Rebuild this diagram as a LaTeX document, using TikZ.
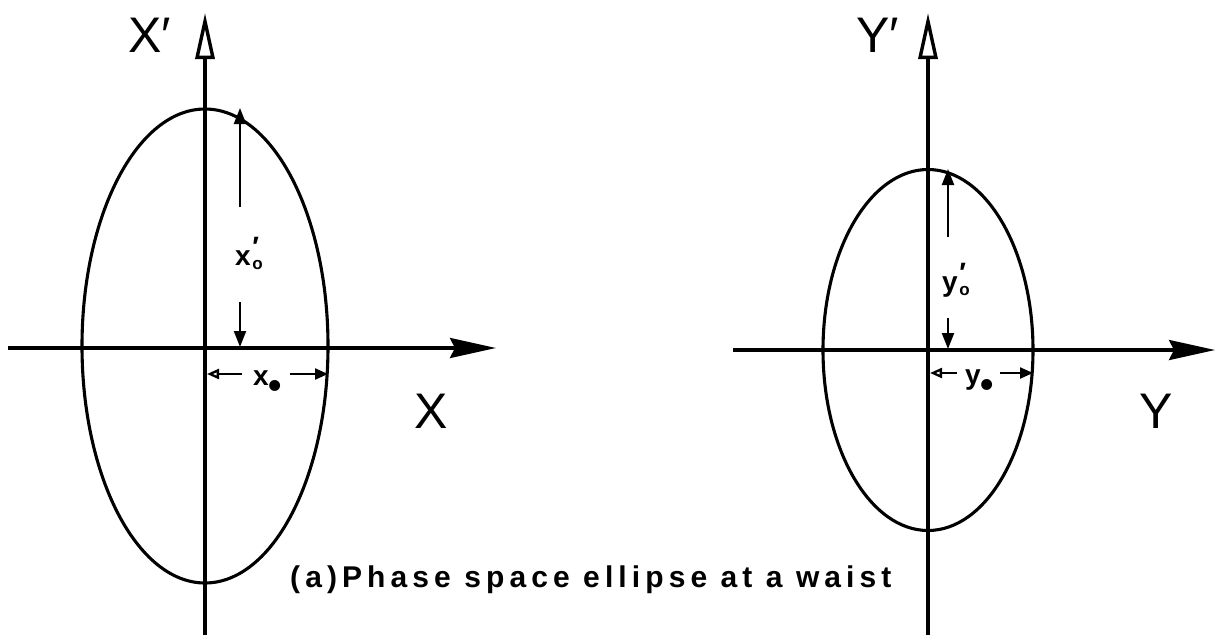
\documentclass[tikz,border=0pt]{standalone}
\usepackage{fontspec}
\setmainfont{Liberation Sans}
\usetikzlibrary{arrows.meta,shapes.geometric}
\begin{document}
\begin{tikzpicture}[x=1pt,y=-1pt,
 axisline/.style={line width=3.4pt},
 ell/.style={draw, ellipse, line width=3.1pt, inner sep=0pt, outer sep=0pt},
 dimline/.style={line width=2.3pt},
 bigtip/.style={-{Stealth[length=46pt,width=20pt,inset=5pt]}},
 opentip/.style={-{Triangle[open,length=46pt,width=19pt,line width=3.4pt]}},
 dimtip/.style={-{Triangle[length=16pt,width=12pt]}},
 lefttip/.style={-{Triangle[open,length=12pt,width=10pt,line width=2.3pt]}},
 righttip/.style={-{Triangle[length=13pt,width=11pt]}},
 axlabel/.style={font=\fontsize{50}{50}\selectfont, inner sep=0pt, anchor=base west},
 dimlabel/.style={font=\fontsize{28}{28}\selectfont\bfseries, inner sep=0pt, anchor=base west},
]
\useasboundingbox (0,0) rectangle (1226,635);
\fill[white] (0,0) rectangle (1226,635);

% ---------- left diagram ----------
\coordinate (xl0) at (8,348);
\coordinate (xl1) at (496,348);
\coordinate (yl0) at (205,635);
\coordinate (yl1) at (205,13);
\node[ell, minimum width=246pt, minimum height=474pt] (e1) at (205,346) {};
\draw[axisline, bigtip] (xl0) -- (xl1);
\draw[axisline, opentip] (yl0) -- (yl1);
\node[axlabel] (lXp) at (128,52) {X′};
\node[axlabel] (lX) at (414,428) {X};

% x'_o dimension
\coordinate (da1) at (240,207);
\coordinate (da2) at (240,108);
\coordinate (db1) at (240,302);
\coordinate (db2) at (240,347);
\draw[dimline, dimtip] (da1) -- (da2);
\draw[dimline, dimtip] (db1) -- (db2);
\node[dimlabel] (lxp) at (235,265) {x\kern1.5pt\rlap{\raisebox{9pt}{′}}\raisebox{-4pt}{\fontsize{17}{17}\selectfont o}};

% x_o dimension
\coordinate (ha1) at (242,374);
\coordinate (ha2) at (207,374);
\coordinate (hb1) at (290,374);
\coordinate (hb2) at (328,374);
\draw[dimline, lefttip] (ha1) -- (ha2);
\draw[dimline, righttip] (hb1) -- (hb2);
\node[dimlabel] (lx) at (253,385) {x\raisebox{-13pt}{\fontsize{38}{38}\selectfont •}};

% ---------- right diagram ----------
\coordinate (xr0) at (733,350);
\coordinate (xr1) at (1215,350);
\coordinate (yr0) at (928,635);
\coordinate (yr1) at (928,13);
\node[ell, minimum width=210pt, minimum height=361pt] (e2) at (928,350) {};
\draw[axisline, bigtip] (xr0) -- (xr1);
\draw[axisline, opentip] (yr0) -- (yr1);
\node[axlabel] (lYp) at (856,52) {Y′};
\node[axlabel] (lY) at (1139,428) {Y};

% y'_o dimension
\coordinate (dc1) at (948,237);
\coordinate (dc2) at (948,169);
\coordinate (dd1) at (948,318);
\coordinate (dd2) at (948,349);
\draw[dimline, dimtip] (dc1) -- (dc2);
\draw[dimline, dimtip] (dd1) -- (dd2);
\node[dimlabel] (lyp) at (942,291) {y\kern1.5pt\rlap{\raisebox{9pt}{′}}\raisebox{-4pt}{\fontsize{17}{17}\selectfont o}};

% y_o dimension
\coordinate (hc1) at (957,373);
\coordinate (hc2) at (930,373);
\coordinate (hd1) at (1000,373);
\coordinate (hd2) at (1033,373);
\draw[dimline, lefttip] (hc1) -- (hc2);
\draw[dimline, righttip] (hd1) -- (hd2);
\node[dimlabel] (ly) at (965,384) {y\raisebox{-13pt}{\fontsize{38}{38}\selectfont •}};

% caption
\node[font=\fontsize{30}{30}\selectfont\bfseries\addfontfeature{LetterSpace=17}, inner sep=0pt, anchor=base west] (cap) at (290,587) {(a)Phase space ellipse at a waist};
\end{tikzpicture}
\end{document}
